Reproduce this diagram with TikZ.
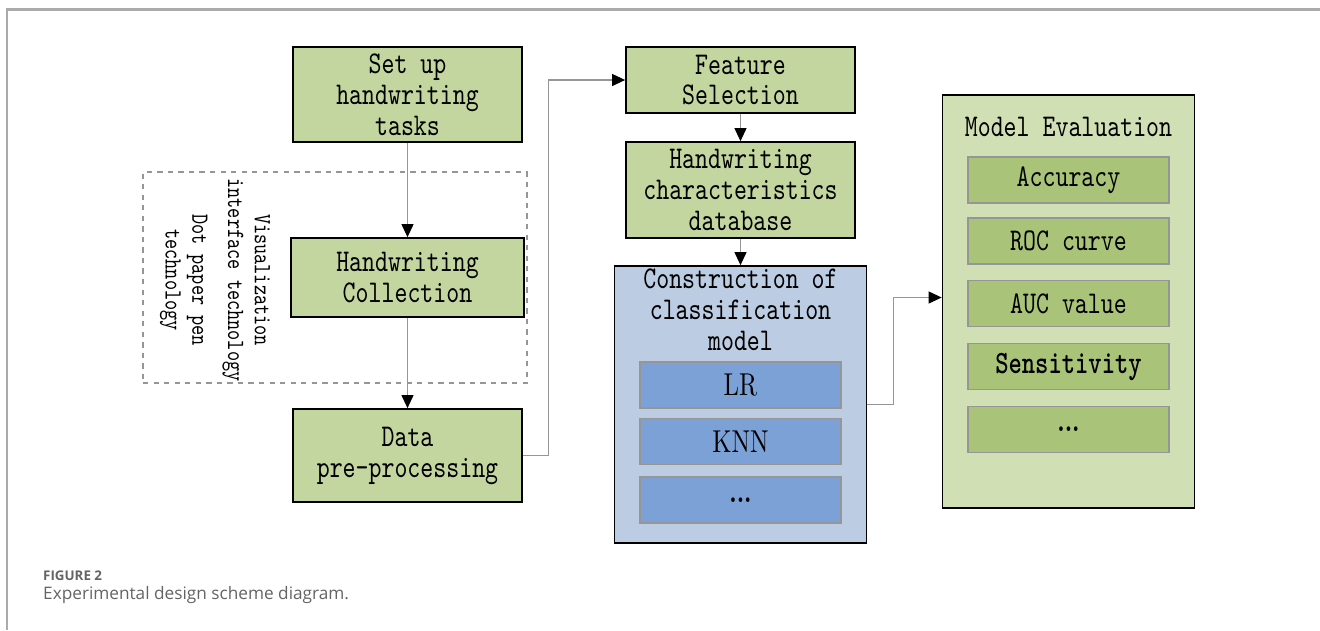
\documentclass[tikz,border=0pt]{standalone}
\usepackage{fontspec}
\setmonofont{lmmono10-regular.otf}[FakeStretch=0.78,BoldFont=lmmonolt10-bold.otf]
\newfontfamily\narrowfont{lmroman10-regular.otf}[FakeStretch=0.78,BoldFont=lmroman10-bold.otf]
\newfontfamily\capfont{Open Sans}
\usetikzlibrary{calc,arrows.meta}
\definecolor{boxgreen}{RGB}{196,214,160}
\definecolor{evalgreen}{RGB}{209,223,181}
\definecolor{itemgreen}{RGB}{169,196,121}
\definecolor{modelblue}{RGB}{188,204,226}
\definecolor{itemblue}{RGB}{123,161,214}
\definecolor{linegray}{RGB}{150,150,150}
\definecolor{captiongray}{RGB}{100,100,100}
\tikzset{
    block/.style = {draw, rectangle, fill=boxgreen, line width=1pt,
        minimum width=4.58cm, align=center,
        font=\fontsize{18}{17.6}\selectfont\ttfamily},
    bigblock/.style = {draw, rectangle, line width=1pt, minimum width=5.04cm},
    item/.style = {draw=linegray, rectangle, line width=0.6pt,
        minimum width=4.02cm, minimum height=0.92cm},
    arrow/.style = {draw=linegray, line width=0.6pt,
        -{Triangle[length=0.26cm,width=0.24cm,color=black]}},
    line/.style = {draw=linegray, line width=0.6pt},
    dashbox/.style = {draw=linegray, dashed, line width=0.6pt}
}

\begin{document}
\begin{tikzpicture}[auto, node distance=2cm]
    \useasboundingbox (0,0) rectangle (26.4,-12.6);
    \draw [linegray!80, line width=1.2pt] (0.14,-12.6) -- (0.14,-0.19) -- (26.4,-0.19);
    \node [dashbox, minimum width=7.68cm, minimum height=4.22cm] (tech) at (6.7,-5.55) {};
    \node [rotate=-90, align=center, font=\fontsize{14.1}{15.3}\selectfont\ttfamily] (techtxt) at (4.3,-5.6)
        {Visualization\\interface technology\\[5pt]Dot paper pen\\technology};
    \node [block, minimum height=1.9cm] (setup) at (8.15,-1.89) {Set up\\handwriting\\tasks};
    \node [block, minimum width=4.66cm, minimum height=1.58cm, below of=setup, node distance=3.66cm] (collect) {Handwriting\\Collection};
    \draw [arrow] (setup) -- (collect);
    \node [block, minimum height=1.86cm, below of=collect, node distance=3.56cm] (prep) {Data\\pre-processing};
    \draw [arrow] (collect) -- (prep);
    \node [block, minimum height=1.32cm] (feat) at (14.81,-1.6) {Feature\\Selection};
    \draw [arrow] (prep.east) -- ++(0.52,0) |- (feat.west);
    \node [block, minimum height=1.92cm, below of=feat, node distance=2.2cm] (db) {Handwriting\\characteristics\\database};
    \draw [arrow] (feat) -- (db);
    \node [bigblock, fill=modelblue, minimum height=5.54cm, below of=db, node distance=4.29cm] (constr) {};
    \draw [arrow] (db) -- (constr);
    \node [align=center, font=\fontsize{18}{17.6}\selectfont\ttfamily] (constrtxt) at ($(constr.north)+(0,-0.9)$)
        {Construction of\\classification\\model};
    \node [item, fill=itemblue, font=\fontsize{18}{18}\selectfont\narrowfont] (lr) at ($(constr.center)+(0,0.39)$) {LR};
    \node [item, fill=itemblue, font=\fontsize{18}{18}\selectfont\narrowfont, below of=lr, node distance=1.13cm] (knn) {KNN};
    \node [item, fill=itemblue, font=\fontsize{17}{17}\selectfont\narrowfont\bfseries, below of=knn, node distance=1.17cm] (more) {...};
    \node [bigblock, fill=evalgreen, minimum height=8.26cm] (eval) at (21.37,-6.03) {};
    \draw [arrow] (constr.east) -- ++(0.52,0) |- ($(eval.west)+(0,0.08)$);
    \node [font=\fontsize{18}{17.6}\selectfont\ttfamily] (evaltxt) at ($(eval.north)+(0,-0.66)$) {Model Evaluation};
    \node [item, fill=itemgreen, font=\fontsize{18}{18}\selectfont\ttfamily] (acc) at (21.37,-3.6) {Accuracy};
    \node [item, fill=itemgreen, font=\fontsize{18}{18}\selectfont\ttfamily, below of=acc, node distance=1.22cm] (roc) {ROC curve};
    \node [item, fill=itemgreen, font=\fontsize{18}{18}\selectfont\ttfamily, below of=roc, node distance=1.25cm] (auc) {AUC value};
    \node [item, fill=itemgreen, font=\fontsize{18.5}{18}\selectfont\ttfamily\bfseries, below of=auc, node distance=1.26cm] (sens) {Sensitivity};
    \node [item, fill=itemgreen, font=\fontsize{17}{17}\selectfont\narrowfont\bfseries, below of=sens, node distance=1.26cm] (etc) {...};
    \node [anchor=west, text=captiongray, font=\fontsize{7.6}{9}\selectfont\capfont\bfseries] (fig) at (0.74,-11.52) {FIGURE 2};
    \node [anchor=west, text=captiongray, font=\fontsize{9.8}{12}\selectfont\capfont] (cap) at (0.74,-11.9) {Experimental design scheme diagram.};
\end{tikzpicture}
\end{document}
